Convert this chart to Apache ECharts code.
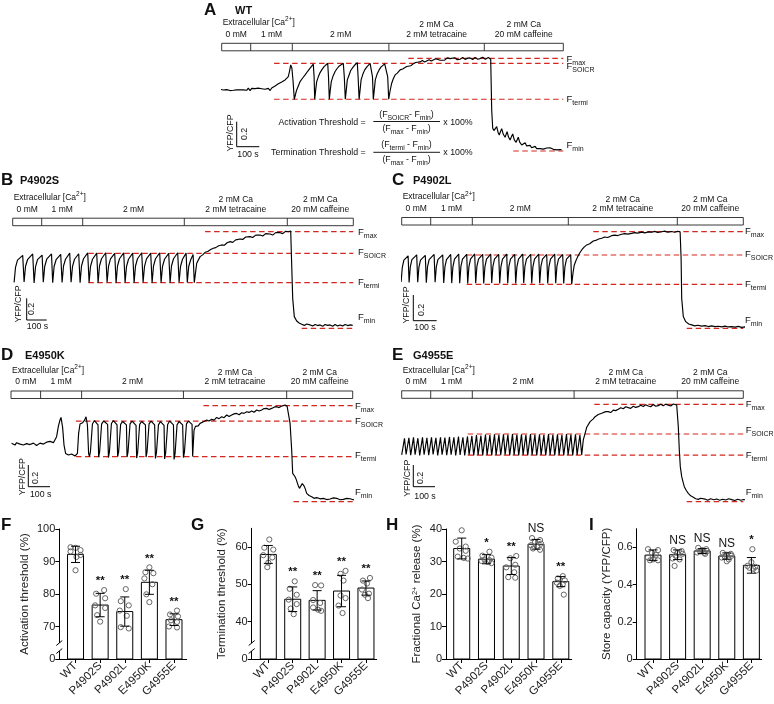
<!DOCTYPE html>
<html><head><meta charset="utf-8">
<script src="https://cdn.jsdelivr.net/npm/echarts@6/dist/echarts.min.js"></script>
<style>html,body{margin:0;padding:0;background:#fff}#c{width:774px;height:704px}</style>
</head><body><div id="c"></div>
<script>
const FONT = "'Liberation Sans', Arial, Helvetica, sans-serif";
const INK = '#111';
const RED = '#d3261f';

// ================= DATA =================
// Traces: time (s) vs normalised YFP/CFP (% of Fmax - Fmin)
const traceNames = ['WT', 'P4902S', 'P4902L', 'E4950K', 'G4955E'];
const traceWT = [[-8,66.6],[0,67.5],[8,65.8],[17,67.7],[25,66.2],[33,67.9],[42,65.2],[50,67],[58,65.5],[67,67.3],[75,66],[83,68],[92,65.9],[100,67.5],[108,66],[117,67],[125,65.5],[133,67.8],[142,65.2],[150,67.5],[158,66],[167,67.3],[175,65.6],[183,67.8],[192,65.9],[200,67.2],[208,66],[217,66.6],[225,65],[233,67.5],[242,65.2],[250,68],[258,69],[267,70.2],[275,69.5],[283,72.5],[292,72.4],[300,74.5],[308,74],[317,76.7],[325,77.5],[333,80.3],[339,86],[345,92.9],[351,89.3],[357,75],[363,55.8],
[370,62],[375,65.9],[392,74.9],[404,78.5],[417,82.1],[430,86],[442,89.3],[458,93.6],[462,80],[465,55.8],
[470,66],[475,74.9],[483,80],[492,84.6],[502,88],[512,91.1],[522,93],[530,94.7],[534,80],[538,55.8],
[543,66],[548,74.9],[557,81],[567,85.7],[577,89],[588,91.8],[598,93.5],[608,94.7],[613,80],[618,55.8],
[623,66],[628,76.7],[637,82],[645,86.8],[655,90],[663,92.2],[672,94],[678,95.4],[682,80],[687,55.8],
[692,66],[697,76.7],[706,83],[715,87.5],[725,90.5],[733,92.5],[742,94.5],[750,95.8],[754,80],[758,55.8],
[763,66],[768,76.7],[777,83],[787,87.5],[796,90.5],[805,92.5],[815,94],[825,95.4],[830,80],[835,55.8],
[842,65],[850,73.1],[858,78],[867,82.1],[878,84],[892,87.5],[905,88.5],[915,90.5],[925,91.1],[935,93],[945,92],[958,94],[970,95.5],[980,94.5],[992,96.1],[1003,97.5],[1015,96],[1025,96.8],[1037,98.5],[1048,97],[1058,98.3],[1070,99.5],[1080,97.5],[1092,97.9],[1102,99.8],[1115,98],[1128,100.5],[1142,99.7],[1152,98.2],[1165,100.6],[1178,98.5],[1192,99],[1205,101],[1217,98.8],[1230,100.2],[1242,100.4],[1255,98.7],[1267,101],[1280,99],[1292,99.7],[1305,101.2],[1318,99],[1333,100.8],[1345,99],
[1350,44.3],[1355,24.5],[1361,22],[1367,21.6],[1375,26.3],[1382,20],[1388,17.3],[1394,21],[1400,24.1],[1408,18],[1417,14.8],[1427,20.9],[1434,15],[1442,11.9],[1448,15],[1455,18.4],[1463,12],[1472,9.4],[1478,12.5],[1483,14.8],[1490,9.5],[1500,6.5],[1508,8],[1517,9],[1525,5.5],[1533,4.3],[1542,6],[1550,3.5],[1558,3.6],[1567,5],[1575,2.5],[1583,4],[1592,2.5],[1600,4.5],[1608,2],[1617,3.8],[1625,3.2],[1633,1.5],[1642,3.5],[1650,2.2],[1658,1.8],[1667,3],[1675,1.2],[1683,2.5],[1692,1.5],[1700,1.4]];
const traceP4902S = [[7,47.5],[14,63],[24,70.5],[50,75.5],[57,48],[64,64],[74,71],[100,77],[107,47],[114,63.5],[124,71],[147,75.8],[153,47.8],[160,64],[170,71.5],[194,77],[200,47.2],[207,64],[217,71],[240,76.5],[247,47.5],[254,64.5],[264,71.5],[285,77.8],[292,47.8],[299,64],[309,71.5],[330,77.2],[337,47.3],[344,64.5],[354,72],[375,78],[382,47.5],[389,64],[399,71.5],[420,77.8],[427,47.2],[434,64.5],[444,72],[465,78.2],[472,47.6],[479,64],[489,71.8],[510,77.6],[517,47.2],[524,64.5],[534,72],[555,78],[562,47.5],[569,64],[579,71.5],[600,77.8],[607,47.3],[614,64.5],[624,72],[645,78.2],[652,47.6],[659,64],[669,71.8],[690,77.8],[697,47.2],[704,64.5],[714,72],[735,78],[742,47.5],[749,64],[759,71.5],[780,77.6],[787,47.3],[794,64.5],[804,72],[825,78.2],[832,47.6],[839,64],[849,71.5],[867,77.8],[873,47.4],[880,64],[890,71],[902,76.5],[908,47.3],
[920,67.3],[937,74.2],[950,76],[962,78.7],[975,79.5],[990,81.5],[1003,82.8],[1015,83.5],[1030,85.5],[1045,86.3],[1058,86],[1072,88.5],[1087,89.7],[1100,89],[1115,91.5],[1137,92.5],[1150,92],[1165,94.5],[1187,94.9],[1200,94],[1215,96.5],[1237,96.6],[1250,95.5],[1265,98],[1287,97.6],[1300,96.5],[1315,99],[1337,99],[1350,98],[1365,100.5],[1378,100],[1390,100.7],
[1395,65.6],[1400,31],[1408,12.1],[1420,7.6],[1432,5.5],[1445,4.1],[1458,3],[1470,4.5],[1487,3.5],[1500,2.5],[1512,4],[1525,2.8],[1537,3.5],[1550,2],[1562,4],[1575,3],[1587,3.5],[1600,2.2],[1612,4],[1625,2.5],[1637,3.5],[1650,2.5],[1662,4],[1675,2.8],[1688,3.5],[1700,3]];
const traceP4902L = [[-3,48],[3,63],[11,70.5],[32,75],[37,47.5],[43,63.5],[51,71],[75,76],[80,47.8],[86,63],[94,70.5],[118,75.5],[123,47.3],[129,63.5],[137,71],[162,76.5],[167,47.8],[173,63.5],[181,71],[205,76],[210,47],[216,63.5],[224,71],[245,76.5],[250,46.8],[256,63.5],[264,71.5],[285,76.8],[290,46.6],[296,64],[304,71.5],[325,76.6],[330,46.5],[336,63.5],[344,71.5],[365,77],[370,46.7],[376,64],[384,71.5],[405,76.6],[410,46.5],[416,63.5],[424,71.5],[445,76.8],[450,46.8],[456,64],[464,71.5],[485,76.5],[490,46.5],[496,63.5],[504,71.5],[525,76.8],[530,46.6],[536,64],[544,71.5],[565,76.5],[570,46.5],[576,63.5],[584,71.5],[605,76.8],[610,46.8],[616,64],[624,71.5],[645,76.5],[650,46.5],[656,63.5],[664,71.5],[685,76.8],[690,46.6],[696,64],[704,71.5],[725,76.5],[730,46.5],[736,63.5],[744,71.5],[765,76.8],[770,46.7],[776,64],[784,71.5],[805,76.5],[810,46.5],[816,63.5],[824,71.5],[845,76.2],[850,45.5],
[857,58],[863,65.6],[872,70.5],[880,74.2],[890,78],[900,81.1],[912,84],[925,86.3],[940,87.5],[958,90.4],[970,91],[985,92.5],[1000,93.2],[1015,94.5],[1030,94],[1050,95.9],[1065,96.5],[1080,96],[1100,97.3],[1115,98],[1130,97.5],[1150,98.3],[1165,99],[1180,98.5],[1200,99.5],[1215,98.8],[1235,99.8],[1250,99.4],[1265,100.3],[1280,99.2],[1300,100],[1315,100.6],[1330,99.5],[1350,100.2],[1365,99.4],[1380,100.5],[1392,100],
[1397,72.5],[1400,31],[1408,12.1],[1420,6.9],[1435,4.5],[1450,3.5],[1465,2.5],[1480,3.2],[1500,2.2],[1517,2.8],[1533,1.8],[1550,2.5],[1567,1.8],[1583,2.1],[1600,1.5],[1617,2.3],[1633,1.4],[1650,1.7],[1667,1.2],[1683,2],[1700,1],[1717,1.5],[1730,1]];
const traceE4950K = [[3,60.8],[12,59.5],[20,59],[28,61.5],[37,62.5],[45,60],[53,60.1],[62,59],[70,58],[78,60.5],[87,61.5],[95,59.5],[103,59],[112,61],[120,60.1],[128,58.5],[137,58],[145,61],[153,62.5],[162,60],[170,60.1],[178,62],[187,61.5],[195,62.8],[203,64.2],[212,61.5],[220,62.5],[228,67.7],[237,78.8],[245,85.1],[250,87.8],[258,77.4],[265,59],[273,50.3],[287,48.6],[303,49.7],[320,47.6],[332,50.3],[338,71.2],[345,80.9],[358,82.3],[368,85],[375,88.5],[382,79.9],[388,50.3],
[392,47],[397,52],[407,81],[417,84.5],[435,80],[438,46.5],[443,52],[453,81],[463,84],[483,80.5],[487,46],[492,52],[502,81.5],[512,84.5],[530,80],[533,47],[538,52],[548,80.5],[558,83.5],[577,80],[580,46.5],[585,52],[595,81],[605,84],[625,79.5],[628,45.5],[633,51],[643,80.5],[653,83.5],[672,80],[675,46.5],[680,52],[690,81],[700,84],[718,80],[722,45],[727,51],[737,80],[747,83.5],[765,79.5],[768,44.5],[773,51],[783,80.5],[793,84],[812,80],[815,44],[820,50],[830,80],[840,83.5],[858,80],[862,46],[867,52],[877,81],[887,84],[905,80.5],[908,47],
[915,74.6],[922,78.5],[928,79.9],[936,79],[945,81.6],[953,80.5],[962,83.3],[970,82],[978,85.1],[990,84],[1003,85.8],[1015,85],[1028,87.8],[1040,86.5],[1053,88.5],[1065,87.5],[1078,90.3],[1090,88.8],[1103,90.3],[1115,91.5],[1128,92],[1140,90.5],[1153,92.7],[1165,92],[1178,93.7],[1190,93],[1203,94.4],[1215,93.2],[1228,95.5],[1240,94.5],[1253,95.5],[1265,97],[1278,97.2],[1290,96],[1303,97.2],[1315,98.5],[1328,99],[1340,98],[1353,99.6],[1362,98.8],[1370,100.7],[1380,99.5],[1387,100],
[1395,81.6],[1403,53.8],[1408,29.5],[1414,28],[1420,26],[1426,23],[1432,19.1],[1437,16],[1442,13.9],[1450,15.6],[1456,19],[1462,19.1],[1466,16],[1470,13.9],[1478,8.7],[1490,6.5],[1503,5.2],[1515,3.5],[1528,4.2],[1545,3],[1562,3.5],[1578,2.2],[1595,2.8],[1612,4],[1628,3.5],[1645,2],[1662,2.4],[1678,3.5],[1695,3.1],[1710,2],[1725,2.4]];
const traceG4955E = [[0,48],[14,65],[22,48.5],[36,65.5],[45,47.8],[59,66],[67,48.3],[81,65.2],[90,47.5],[104,66],[112,48.2],[126,65.5],[135,47.8],[149,66.2],[157,48.5],[171,65.5],[180,47.6],[194,66],[202,48.3],[216,65.8],[225,47.7],[239,66.5],[247,48.2],[261,66],[270,47.5],[284,66.8],[292,48],[306,66.2],[315,47.6],[329,67],[337,48.2],[351,67.5],[360,47.5],[374,68.5],[382,48],[396,68],[405,47.6],[419,69],[427,48.1],[441,68.5],[450,47.5],[464,69.2],[472,48],[486,68.6],[495,47.7],[509,69.3],[517,48.2],[531,68.8],[540,47.6],[554,69.4],[562,48],[576,68.8],[585,47.5],[599,69.2],[607,48.1],[621,68.7],[630,47.6],[644,69.5],[652,48],[666,68.8],[675,47.5],[689,69.3],[697,48],[711,68.6],[720,47.6],[734,69.4],[742,48.1],[756,68.8],[765,47.5],[779,69.2],[787,48],[801,68.7],[810,47.6],[824,69.5],[832,48],[846,68.9],[855,47.5],[869,69.2],[877,48],[891,68.5],[900,47.9],
[908,63.4],[917,70.2],[925,76.4],[933,78],[942,82.2],[950,81.5],[958,85],[967,87.3],[975,86.5],[983,89.5],[992,88.5],[1000,90.8],[1010,90],[1020,92.5],[1033,92.5],[1045,91.5],[1058,94],[1070,93.5],[1083,94.9],[1095,96.5],[1108,95.5],[1120,97.5],[1133,96.6],[1145,95.8],[1158,98],[1170,96.8],[1183,97.6],[1195,99],[1208,97.8],[1220,99.5],[1233,98.3],[1245,97.5],[1258,99.8],[1270,98],[1283,98.6],[1295,100],[1308,98.5],[1320,100.2],[1333,99],[1345,98.2],[1358,100.3],[1368,99],[1375,99.3],
[1383,77.1],[1388,53.1],[1393,36],[1400,25.7],[1407,20],[1413,15.4],[1423,11.5],[1433,8.6],[1445,6],[1458,4.5],[1470,3],[1483,2.4],[1495,3.5],[1505,2],[1517,2.7],[1530,1.5],[1545,3],[1560,2],[1575,2.8],[1590,1.5],[1605,2.5],[1620,1.8],[1635,3],[1650,2.1],[1665,1.2],[1680,2.5],[1695,1.5],[1710,2.3],[1725,1.7]];
const traces = [traceWT, traceP4902S, traceP4902L, traceE4950K, traceG4955E];

const fmaxLevel = 100;
const fminLevel = 0;
const soicrLevels = [94.6, 77.6, 75.9, 84.0, 69.5];
const termiLevels = [55.8, 47.2, 45.5, 46.9, 47.9];
const fmaxStart = [933, 962, 958, 962, 963];
const thrStart = [262, 378, 325, 325, 330];
const fminStart = [1458, 1445, 1425, 1412, 1425];
const traceEnd = [1708, 1703, 1708, 1708, 1708];

const protocolTimes = [
  [0, 145, 353, 836, 1313, 1708],
  [0, 145, 350, 858, 1373, 1703],
  [0, 145, 353, 833, 1378, 1708],
  [0, 148, 353, 862, 1378, 1708],
  [0, 145, 353, 862, 1378, 1708]
];
const protocolLabels = [['0 mM'], ['1 mM'], ['2 mM'], ['2 mM Ca', '2 mM tetracaine'], ['2 mM Ca', '20 mM caffeine']];

// Bar charts
const categories = ['WT', 'P4902S', 'P4902L', 'E4950K', 'G4955E'];
const actMean = [92.2, 76.6, 74.6, 83.6, 72.1];
const actSD = [2.5, 3.6, 4.5, 3.7, 1.8];
const actPoints = [[94.4,94.2,93.5,93.1,92.0,91.4,87.3],[81.2,80.1,78.7,76.5,75.7,73.5,71.5],[81.5,77.8,76.5,74.9,73.3,69.8,69.4],[88.2,86.7,86.4,84.8,83.0,79.9,77.5],[74.9,73.7,73.1,71.9,71.4,70.0,69.7]];
const actSig = ['', '**', '**', '**', '**'];

const termMean = [58.0, 46.0, 45.7, 48.2, 49.0];
const termSD = [2.4, 3.3, 2.6, 4.2, 1.9];
const termPoints = [[62.0,59.8,59.3,57.8,57.2,55.8,54.6],[50.8,48.8,47.2,45.9,44.7,43.5,42.0],[49.8,49.7,45.8,45.0,43.8,43.2,42.9],[53.6,52.8,51.0,47.0,46.3,44.3,42.3],[51.7,51.0,50.2,48.6,47.5,47.2,46.3]];
const termSig = ['', '**', '**', '**', '**'];

const fracMean = [34.0, 30.7, 28.6, 35.3, 23.8];
const fracSD = [3.2, 1.4, 2.6, 1.5, 1.55];
const fracPoints = [[39.6,36.1,34.6,34.0,33.3,31.5,31.1,30.9],[33.0,31.8,31.2,30.6,30.4,30.2,29.9,29.5],[31.7,31.0,29.0,28.2,26.7,25.2,25.0],[37.2,36.6,36.0,35.5,35.0,34.5,34.0,33.6],[25.5,24.8,24.2,23.5,23.0,22.5,19.8]];
const fracSig = ['', '*', '**', 'NS', '**'];

const storeMean = [0.558, 0.560, 0.580, 0.553, 0.503];
const storeSD = [0.028, 0.026, 0.013, 0.017, 0.042];
const storePoints = [[0.59,0.585,0.57,0.56,0.545,0.535,0.53,0.53],[0.585,0.58,0.57,0.565,0.555,0.54,0.535,0.50],[0.597,0.59,0.585,0.58,0.578,0.572,0.57,0.565],[0.57,0.565,0.56,0.555,0.55,0.545,0.535,0.525],[0.59,0.52,0.50,0.495,0.49,0.485,0.475]];
const storeSig = ['', 'NS', 'NS', 'NS', '*'];

// ================= LAYOUT =================
const traceLayout = [
  {left: 221.7, width: 341.6, top: 58.3, height: 92.7, barTop: 43.3},
  {left: 12.7, width: 340.6, top: 231.7, height: 96.6, barTop: 218.2},
  {left: 401.7, width: 341.6, top: 231.7, height: 96.6, barTop: 217.5},
  {left: 11, width: 341.7, top: 405.7, height: 96, barTop: 391},
  {left: 401.7, width: 341.6, top: 404.3, height: 97.4, barTop: 390.8}
];
const panelTitles = [
  {letter: 'A', lx: 204, ly: 10, nx: 235, ny: 11},
  {letter: 'B', lx: 1, ly: 180, nx: 20, ny: 181},
  {letter: 'C', lx: 392, ly: 180, nx: 413, ny: 181},
  {letter: 'D', lx: 1, ly: 355, nx: 25, ny: 356},
  {letter: 'E', lx: 392, ly: 355, nx: 413, ny: 356}
];
const fLabelX = [566.5, 358, 745, 355, 745.7];
const fLabelY = [[59.3, 66.7, 99, 145.7], [232.3, 252.3, 282.3, 317.7], [231.7, 254.3, 284, 320.7], [406, 421, 455.7, 492.7], [404.3, 430.7, 455, 492.3]];
const scaleBars = [
  {x: 236.7, y0: 121.7, y1: 146.7, x1: 259.3, yfp: [230.5, 133], v: [244.5, 134], s: [248, 154.3]},
  {x: 26.7, y0: 298.3, y1: 320, x1: 46.7, yfp: [18.5, 304], v: [32, 309], s: [37.5, 327]},
  {x: 413.3, y0: 295, y1: 320.7, x1: 436.7, yfp: [406.7, 305], v: [422, 310], s: [425, 328]},
  {x: 28.3, y0: 465, y1: 486.7, x1: 50, yfp: [22.7, 476.7], v: [36, 478], s: [40.7, 495]},
  {x: 413.3, y0: 465, y1: 486.7, x1: 435, yfp: [407.7, 478.3], v: [421, 478], s: [425, 497]}
];
const barLayout = [
  {left: 59.3, right: 186.7, top: 529, bottom: 659, xmin: -0.659, xmax: 4.516, ymin: 60, ymax: 100, ticks: [60, 70, 80, 90, 100], brk: true, name: 'Activation threshold (%)', nameGap: 28, letter: 'F', lx: 1, ly: 525},
  {left: 251.7, right: 376.7, top: 528.3, bottom: 659, xmin: -0.68, xmax: 4.44, ymin: 30, ymax: 65, ticks: [30, 40, 50, 60], brk: true, name: 'Termination threshold (%)', nameGap: 24, letter: 'G', lx: 191, ly: 525},
  {left: 446, right: 571.7, top: 529, bottom: 659, xmin: -0.634, xmax: 4.44, ymin: 0, ymax: 40, ticks: [0, 10, 20, 30, 40], brk: false, name: 'Fractional Ca{sup|2+} release (%)', nameGap: 23.5, letter: 'H', lx: 386, ly: 525},
  {left: 636.7, right: 761.7, top: 528.7, bottom: 659, xmin: -0.663, xmax: 4.42, ymin: 0, ymax: 0.7, ticks: [0, 0.2, 0.4, 0.6], brk: false, name: 'Store capacity (YFP/CFP)', nameGap: 24, letter: 'I', lx: 589, ly: 525}
];
const jitter = [
  [[-5,0,5,-5,5,1,0],[4,-4,5,-5,5,-3,0],[1,-4,4,-5,2,-4,4],[0,-4,4,-5,3,-3,0],[3,-4,4,-3,3,-5,3]],
  [[1,-4,5,-5,4,0,-1],[2,-3,4,-4,4,-2,1],[-2,4,-4,3,-4,1,4],[4,-1,2,-1,4,-3,1],[4,-3,1,-4,3,-1,2]],
  [[0,-6,4,-2,4,-4,2,6],[3,-4,5,-2,3,-5,1,5],[5,-1,4,-5,3,-3,4],[-4,4,-1,5,-5,1,-3,4],[2,-3,4,-4,2,-1,3]],
  [[-5,5,-1,3,-5,0,5,-3],[-4,4,0,5,-2,-5,2,-3],[-4,4,0,5,-2,-5,2,3],[-4,4,0,5,-2,-5,2,0],[1,0,-4,4,-2,2,5]]
];
const barSeriesData = [
  {mean: actMean, sd: actSD, pts: actPoints, sig: actSig},
  {mean: termMean, sd: termSD, pts: termPoints, sig: termSig},
  {mean: fracMean, sd: fracSD, pts: fracPoints, sig: fracSig},
  {mean: storeMean, sd: storeSD, pts: storePoints, sig: storeSig}
];

// ================= HELPERS =================
const mctx = document.createElement('canvas').getContext('2d');
function tw(s, size, weight) { mctx.font = (weight || 'normal') + ' ' + size + 'px ' + FONT; return mctx.measureText(s).width; }
function txt(x, y, s, size, opts) {
  opts = opts || {};
  const st = {text: s, font: (opts.weight || 'normal') + ' ' + size + 'px ' + FONT, fill: opts.color || INK,
    align: opts.align || 'left', verticalAlign: opts.va || 'middle', textAlign: opts.align || 'left', textVerticalAlign: opts.va || 'middle'};
  const el = {type: 'text', x: x, y: y, style: st, z: 50, silent: true};
  if (opts.rotation) el.rotation = opts.rotation;
  return el;
}
function richLine(x, y, parts, size, subSize, align) {
  const sizes = parts.map(p => p[1] === 'n' ? size : subSize);
  const widths = parts.map((p, i) => tw(p[0], sizes[i]));
  const total = widths.reduce((a, b) => a + b, 0);
  let cx = align === 'center' ? x - total / 2 : (align === 'right' ? x - total : x);
  const out = [];
  parts.forEach((p, i) => {
    const dy = p[1] === 'sub' ? size * 0.38 : (p[1] === 'sup' ? -size * 0.38 : 0);
    out.push(txt(cx, y + dy, p[0], sizes[i]));
    cx += widths[i];
  });
  return out;
}
function hline(x1, y1, x2, y2, w, color) {
  return {type: 'line', shape: {x1: x1, y1: y1, x2: x2, y2: y2}, style: {stroke: color || '#000', lineWidth: w || 1}, z: 50, silent: true};
}

// ================= OPTION =================
const grids = [], xAxes = [], yAxes = [], series = [];
traces.forEach((tr, k) => {
  const L = traceLayout[k];
  grids.push({left: L.left, top: L.top, width: L.width, height: L.height, containLabel: false, outerBoundsMode: 'none'});
  xAxes.push({type: 'value', gridIndex: k, min: 0, max: traceEnd[k], show: false});
  yAxes.push({type: 'value', gridIndex: k, min: 0, max: 100, show: false});
  const dashed = d => ({type: 'line', xAxisIndex: k, yAxisIndex: k, data: d, symbol: 'none', showSymbol: false, silent: true, clip: false, z: 2,
    lineStyle: {color: RED, width: 1.2, type: [5.5, 3.5]}});
  series.push(dashed([[fmaxStart[k], fmaxLevel], [traceEnd[k], fmaxLevel]]));
  series.push(dashed([[thrStart[k], soicrLevels[k]], [traceEnd[k], soicrLevels[k]]]));
  series.push(dashed([[thrStart[k], termiLevels[k]], [traceEnd[k], termiLevels[k]]]));
  series.push(dashed([[fminStart[k], fminLevel], [traceEnd[k], fminLevel]]));
  series.push({type: 'line', xAxisIndex: k, yAxisIndex: k, data: tr, symbol: 'none', showSymbol: false, silent: true, clip: false, z: 3,
    lineStyle: {color: '#000', width: 1.15}});
});

barLayout.forEach((B, j) => {
  const gi = 5 + j;
  const D = barSeriesData[j];
  grids.push({left: B.left, top: B.top, width: B.right - B.left, height: B.bottom - B.top, containLabel: false, outerBoundsMode: 'none'});
  xAxes.push({type: 'value', gridIndex: gi, min: B.xmin, max: B.xmax, splitLine: {show: false},
    axisLine: {show: true, onZero: false, lineStyle: {color: '#000', width: 1}},
    axisTick: {show: true, length: 4, customValues: [0, 1, 2, 3, 4], lineStyle: {color: '#000', width: 1}},
    axisLabel: {customValues: [0, 1, 2, 3, 4], formatter: v => categories[Math.round(v)], rotate: 45, fontSize: 11.5, fontFamily: FONT, color: '#222', margin: 5}});
  yAxes.push({type: 'value', gridIndex: gi, min: B.ymin, max: B.ymax, splitLine: {show: false},
    axisLine: {show: true, onZero: false, lineStyle: {color: '#000', width: 1}},
    axisTick: {show: true, length: 4, customValues: B.ticks, lineStyle: {color: '#000', width: 1}},
    axisLabel: {customValues: B.ticks, fontSize: 11, fontFamily: FONT, color: '#222', margin: 4,
      formatter: v => (v === B.ymin ? '0' : (B.ymax < 1 ? v.toFixed(1) : String(v)))},
    name: B.name, nameLocation: 'middle', nameGap: B.nameGap, nameRotate: 90,
    nameTextStyle: {fontSize: 11.5, fontFamily: FONT, color: '#222', rich: {sup: {fontSize: 7.5, fontFamily: FONT, color: '#222', verticalAlign: 'top'}}}});
  // bars
  series.push({type: 'custom', xAxisIndex: gi, yAxisIndex: gi, silent: true, z: 2, clip: false,
    data: D.mean.map((m, i) => [i, m]),
    renderItem: (p, api) => {
      const top = api.coord([api.value(0), api.value(1)]);
      const base = api.coord([api.value(0), B.ymin]);
      return {type: 'rect', shape: {x: top[0] - 8, y: top[1], width: 16, height: base[1] - top[1]}, style: {fill: '#fff', stroke: '#000', lineWidth: 1}};
    }});
  // points
  const flat = [];
  D.pts.forEach((arr, i) => arr.forEach((v, n) => flat.push([i, v, jitter[j][i][n] || 0])));
  series.push({type: 'custom', xAxisIndex: gi, yAxisIndex: gi, silent: true, z: 3, clip: false,
    data: flat,
    renderItem: (p, api) => {
      const c = api.coord([api.value(0), api.value(1)]);
      return {type: 'circle', shape: {cx: c[0] + api.value(2), cy: c[1], r: 2.6}, style: {fill: 'none', stroke: '#666', lineWidth: 1}};
    }});
  // error bars + significance
  series.push({type: 'custom', xAxisIndex: gi, yAxisIndex: gi, silent: true, z: 4, clip: false,
    data: D.mean.map((m, i) => [i, m, D.sd[i], Math.max(m + D.sd[i], Math.max.apply(null, D.pts[i]))]),
    renderItem: (p, api) => {
      const i = api.value(0), m = api.value(1), sd = api.value(2), hi = api.value(3);
      const a = api.coord([i, m + sd]), b = api.coord([i, m - sd]), h = api.coord([i, hi]);
      const children = [
        {type: 'line', shape: {x1: a[0], y1: a[1], x2: b[0], y2: b[1]}, style: {stroke: '#000', lineWidth: 1}},
        {type: 'line', shape: {x1: a[0] - 4.5, y1: a[1], x2: a[0] + 4.5, y2: a[1]}, style: {stroke: '#000', lineWidth: 1}},
        {type: 'line', shape: {x1: b[0] - 4.5, y1: b[1], x2: b[0] + 4.5, y2: b[1]}, style: {stroke: '#000', lineWidth: 1}}
      ];
      const s = D.sig[p.dataIndex];
      if (s) children.push({type: 'text', x: h[0], y: h[1] - 3, style: {text: s, font: (s === 'NS' ? '12px ' : 'bold 11.5px ') + FONT, fill: '#111', align: 'center', verticalAlign: 'bottom', textAlign: 'center', textVerticalAlign: 'bottom'}});
      return {type: 'group', children: children};
    }});
});

const chart = echarts.init(document.getElementById('c'), null, {renderer: 'canvas'});
chart.setOption({animation: false, backgroundColor: '#fff', grid: grids, xAxis: xAxes, yAxis: yAxes, series: series});

// ================= GRAPHICS (annotations) =================
const G = [];
traces.forEach((tr, k) => {
  const L = traceLayout[k];
  const T = panelTitles[k];
  G.push(txt(T.lx, T.ly, T.letter, 17, {weight: 'bold'}));
  G.push(txt(T.nx, T.ny, traceNames[k], 11, {weight: 'bold'}));
  // protocol bar
  const pt = protocolTimes[k].map(t => chart.convertToPixel({gridIndex: k}, [t, 0])[0]);
  const y0 = L.barTop, bh = 7.5;
  G.push({type: 'rect', shape: {x: pt[0], y: y0, width: pt[pt.length - 1] - pt[0], height: bh}, style: {fill: '#fff', stroke: '#222', lineWidth: 0.9}, z: 40, silent: true});
  for (let i = 1; i < pt.length - 1; i++) G.push(hline(pt[i], y0, pt[i], y0 + bh, 0.9, '#222'));
  richLine(pt[0] + 1, y0 - 20.5, [['Extracellular [Ca', 'n'], ['2+', 'sup'], [']', 'n']], 8.5, 6.5, 'left').forEach(e => G.push(e));
  protocolLabels.forEach((lab, i) => {
    const cx = (pt[i] + pt[i + 1]) / 2;
    if (lab.length === 1) G.push(txt(cx, y0 - 9, lab[0], 8.5, {align: 'center'}));
    else { G.push(txt(cx, y0 - 18.3, lab[0], 8.5, {align: 'center'})); G.push(txt(cx, y0 - 9, lab[1], 8.5, {align: 'center'})); }
  });
  // level labels
  const subs = ['max', 'SOICR', 'termi', 'min'];
  subs.forEach((s, i) => richLine(fLabelX[k], fLabelY[k][i], [['F', 'n'], [s, 'sub']], 9.5, 7, 'left').forEach(e => G.push(e)));
  // scale bar
  const S = scaleBars[k];
  G.push({type: 'polyline', shape: {points: [[S.x, S.y0], [S.x, S.y1], [S.x1, S.y1]]}, style: {stroke: '#000', lineWidth: 1, fill: 'none'}, z: 50, silent: true});
  G.push(txt(S.yfp[0], S.yfp[1], 'YFP/CFP', 8.8, {align: 'center', rotation: Math.PI / 2}));
  G.push(txt(S.v[0], S.v[1], '0.2', 8.8, {align: 'center', rotation: Math.PI / 2}));
  G.push(txt(S.s[0], S.s[1], '100 s', 8.8, {align: 'center'}));
});

// formula (panel A)
G.push(txt(365.7, 122.3, 'Activation Threshold =', 8.8, {align: 'right'}));
richLine(406.5, 114.7, [['(F', 'n'], ['SOICR', 'sub'], ['- F', 'n'], ['min', 'sub'], [')', 'n']], 8.8, 6.8, 'center').forEach(e => G.push(e));
G.push(hline(373.3, 121.5, 440, 121.5, 0.9));
richLine(406.5, 128.8, [['(F', 'n'], ['max', 'sub'], [' - F', 'n'], ['min', 'sub'], [')', 'n']], 8.8, 6.8, 'center').forEach(e => G.push(e));
G.push(txt(443.3, 122.3, 'x 100%', 8.8));
G.push(txt(365.7, 152.5, 'Termination Threshold =', 8.8, {align: 'right'}));
richLine(406.5, 145, [['(F', 'n'], ['termi', 'sub'], [' - F', 'n'], ['min', 'sub'], [')', 'n']], 8.8, 6.8, 'center').forEach(e => G.push(e));
G.push(hline(373.3, 152.3, 440, 152.3, 0.9));
richLine(406.5, 159.5, [['(F', 'n'], ['max', 'sub'], [' - F', 'n'], ['min', 'sub'], [')', 'n']], 8.8, 6.8, 'center').forEach(e => G.push(e));
G.push(txt(443.3, 152.5, 'x 100%', 8.8));

// bar chart letters and axis breaks
barLayout.forEach(B => {
  G.push(txt(B.lx, B.ly, B.letter, 17, {weight: 'bold'}));
  if (B.brk) {
    const x = B.left;
    G.push({type: 'rect', shape: {x: x - 1.5, y: 643, width: 3, height: 8}, style: {fill: '#fff'}, z: 60, silent: true});
    G.push({type: 'line', shape: {x1: x - 3, y1: 645.5, x2: x + 3, y2: 640.5}, style: {stroke: '#000', lineWidth: 1}, z: 61, silent: true});
    G.push({type: 'line', shape: {x1: x - 3, y1: 653.5, x2: x + 3, y2: 648.5}, style: {stroke: '#000', lineWidth: 1}, z: 61, silent: true});
  }
});

chart.setOption({graphic: {elements: G}});
</script>
</body></html>
